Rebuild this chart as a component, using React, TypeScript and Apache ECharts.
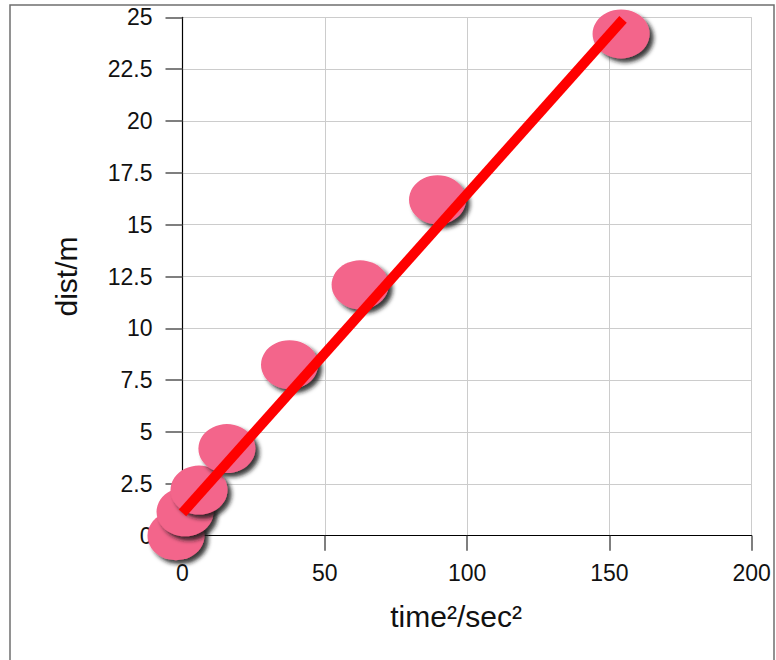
import React, { useEffect, useRef } from "react";
import * as echarts from "echarts";

const timeSquared = [-2.3, 0.9, 5.8, 15.6, 37.6, 62.4, 89.6, 154.1];
const distances = [0, 1.15, 2.2, 4.2, 8.25, 12.1, 16.2, 24.2];
const fitX = [0, 154.8];
const fitY = [1.1, 24.9];
const xAxisName = "time²/sec²";
const yAxisName = "dist/m";

export default function App() {
  const ref = useRef<HTMLDivElement>(null);
  useEffect(() => {
    if (!ref.current) return;
    const chart = echarts.init(ref.current, undefined, { renderer: "svg" });
    const font = "'Liberation Sans', Arial, sans-serif";
    chart.setOption({
      animation: false,
      backgroundColor: "#ffffff",
      textStyle: { fontFamily: font },
      grid: { left: 182.5, right: 24.3, top: 17.3, bottom: 124.3, containLabel: false },
      graphic: [
        {
          type: "rect",
          silent: true,
          z: -10,
          shape: { x: 10, y: 5, width: 764, height: 720 },
          style: { fill: "none", stroke: "#6f6f6f", lineWidth: 1.5 },
        },
      ],
      xAxis: {
        type: "value",
        min: 0,
        max: 200,
        interval: 50,
        name: xAxisName,
        nameLocation: "middle",
        nameGap: 66,
        nameTextStyle: { fontSize: 30, color: "#111", fontFamily: font, padding: [0, 22, 0, 0] },
        axisLine: { show: true, onZero: false, lineStyle: { color: "#000", width: 1.2 } },
        axisTick: { show: true, length: 15, lineStyle: { color: "#555", width: 1.5 } },
        axisLabel: { fontSize: 23, color: "#111", margin: 26, fontFamily: font },
        splitLine: { show: true, lineStyle: { color: "#cccccc", width: 1 } },
      },
      yAxis: {
        type: "value",
        min: 0,
        max: 25,
        interval: 2.5,
        name: yAxisName,
        nameLocation: "middle",
        nameGap: 101,
        nameTextStyle: { fontSize: 30, color: "#111", fontFamily: font },
        axisLine: { show: true, onZero: false, lineStyle: { color: "#000", width: 1.2 } },
        axisTick: { show: true, length: 17, lineStyle: { color: "#555", width: 1.5 } },
        axisLabel: { fontSize: 23, color: "#111", margin: 30, fontFamily: font },
        splitLine: { show: true, lineStyle: { color: "#cccccc", width: 1 } },
      },
      series: [
        {
          type: "scatter",
          clip: false,
          symbol: "circle",
          symbolSize: [57, 49],
          data: timeSquared.map((x, i) => [x, distances[i]]),
          itemStyle: {
            color: "#f3658b",
            opacity: 1,
            shadowBlur: 4,
            shadowColor: "rgba(20,20,20,0.85)",
            shadowOffsetX: 4,
            shadowOffsetY: 4,
          },
          z: 2,
        },
        {
          type: "line",
          clip: false,
          showSymbol: false,
          symbol: "none",
          data: fitX.map((x, i) => [x, fitY[i]]),
          lineStyle: { color: "#ff0000", width: 10, cap: "butt" },
          z: 3,
        },
      ],
    });
    return () => chart.dispose();
  }, []);
  return (
    <div
      ref={ref}
      style={{ position: "fixed", left: 0, top: 0, width: 776, height: 660 }}
    />
  );
}
